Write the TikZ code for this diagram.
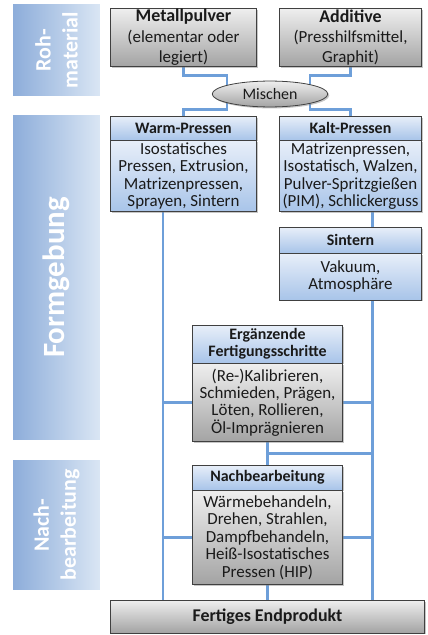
\documentclass[tikz,border=0pt]{standalone}
\usepackage{fontspec}
\setmainfont{Carlito}
\usetikzlibrary{shapes.geometric,shadows,backgrounds,calc}
\definecolor{ink}{HTML}{1A1A1A}
\definecolor{frame}{HTML}{404040}
\definecolor{wire}{HTML}{6E9FD9}
\definecolor{bandL}{HTML}{8DADDA}
\definecolor{bandR}{HTML}{DAE6F4}
\definecolor{greyT}{HTML}{EFEFEF}
\definecolor{greyB}{HTML}{A3A3A3}
\definecolor{blueT}{HTML}{E8EFF9}
\definecolor{blueB}{HTML}{A8C4E9}
\tikzset{
  every node/.style={font=\fontsize{17}{17.5}\selectfont, text=ink},
  shadowed/.style={drop shadow={shadow xshift=1.5pt, shadow yshift=-1.5pt, opacity=0.45}},
  greybox/.style={draw=frame, line width=0.8pt, top color=greyT, bottom color=greyB,
                  align=center, inner sep=1pt, shadowed},
  bluebox/.style={draw=frame, line width=0.8pt, top color=blueT, bottom color=blueB,
                  align=center, inner sep=1pt, shadowed},
  head/.style={font=\fontsize{16}{17.5}\selectfont\bfseries},
  rawbox/.style={greybox, minimum height=59, font=\fontsize{17}{20.5}\selectfont},
  band/.style={left color=bandL, right color=bandR, minimum width=87, inner sep=0pt},
  bandtext/.style={rotate=90, text=white, align=center, font=\fontsize{22}{27}\selectfont\bfseries},
  link/.style={draw=wire, line width=3pt},
}
\newcommand{\ttl}[1]{{\fontsize{18}{20.5}\selectfont\bfseries #1}}

\begin{document}
\begin{tikzpicture}[x=1bp, y=-1bp]
\useasboundingbox (0,0) rectangle (427,635);

% ================= phase bands =================
\node[band, minimum height=92]  (bRoh)  at (56.5,50)    {};
\node[band, minimum height=325] (bForm) at (56.5,277.5) {};
\node[band, minimum height=130] (bNach) at (56.5,525)   {};
\node[bandtext] (tRoh)  at (bRoh)  {Roh-\\material};
\node[bandtext, font=\fontsize{31}{36}\selectfont\bfseries] (tForm) at (bForm) {Formgebung};
\node[bandtext] (tNach) at (bNach) {Nach-\\bearbeitung};

% ================= raw material =================
\node[rawbox, minimum width=147] (metall) at (183.5,37.5)
  {\ttl{Metallpulver}\\(elementar oder\\legiert)};
\node[rawbox, minimum width=143] (addit) at (350.5,37.5)
  {\ttl{Additive}\\(Presshilfsmittel,\\Graphit)};
\node[greybox, ellipse, minimum width=116, minimum height=26, inner sep=0pt,
      font=\fontsize{16}{17.5}\selectfont] (misch) at (270,94) {Mischen};

% ================= shaping =================
\node[bluebox, head, minimum width=147, minimum height=24] (warmH) at (183.5,128) {Warm-Pressen};
\node[bluebox, minimum width=147, minimum height=72] (warmB) at (183.5,176)
  {Isostatisches\\Pressen, Extrusion,\\Matrizenpressen,\\Sprayen, Sintern};
\node[bluebox, head, minimum width=143, minimum height=24] (kaltH) at (350.5,128) {Kalt-Pressen};
\node[bluebox, minimum width=143, minimum height=72] (kaltB) at (350.5,176)
  {Matrizenpressen,\\Isostatisch, Walzen,\\Pulver-Spritzgießen\\(PIM), Schlickerguss};

\node[bluebox, head, minimum width=143, minimum height=26] (sintH) at (350.5,240) {Sintern};
\node[bluebox, minimum width=143, minimum height=47] (sintB) at (350.5,276.5) {Vakuum,\\Atmosphäre};

\node[bluebox, head, minimum width=151, minimum height=38] (ergH) at (267.5,344)
  {Ergänzende\\Fertigungsschritte};
\node[greybox, minimum width=151, minimum height=79] (ergB) at (267.5,402.5)
  {(Re-)Kalibrieren,\\Schmieden, Prägen,\\Löten, Rollieren,\\Öl-Imprägnieren};

% ================= finishing =================
\node[bluebox, head, minimum width=151, minimum height=25] (nachH) at (267.5,477.5) {Nachbearbeitung};
\node[greybox, minimum width=151, minimum height=95] (nachB) at (267.5,537.5)
  {Wärmebehandeln,\\Drehen, Strahlen,\\Dampfbehandeln,\\Heiß-Isostatisches\\Pressen (HIP)};

\node[greybox, minimum width=315, minimum height=33] (endp) at (267.5,616.5) {\ttl{Fertiges Endprodukt}};

% ---- connectors behind the boxes ----
\begin{scope}[on background layer]
  \coordinate (mL) at ($(misch.center)+(-43,0)$);
  \coordinate (mR) at ($(misch.center)+(40,0)$);
  \draw[link] (metall.south) -- ++(0,8) -| (mL);
  \draw[link] (addit.south) -- ++(0,8) -| (mR);
  \draw[link] (mL) |- ($(warmH.north)+(0,-6)$) -- (warmH.north);
  \draw[link] (mR) |- ($(kaltH.north)+(0,-6)$) -- (kaltH.north);

  % two trunks down to the end product
  \coordinate (wOut) at ($(warmB.south)+(-20.5,0)$);
  \coordinate (kOut) at ($(kaltB.south)+(21.5,0)$);
  \draw[link] (wOut) -- (wOut |- endp.north);
  \draw[link] (kOut) -- (kOut |- sintH.north);
  \draw[link] (kOut |- sintB.south) -- (kOut |- endp.north);

  \draw[link] (ergB.west) -- (ergB.west -| wOut);
  \draw[link] (ergB.east) -- (ergB.east -| kOut);
  \draw[link] (nachB.west) -- (nachB.west -| wOut);
  \draw[link] (nachB.east) -- (nachB.east -| kOut);

  \coordinate (eJ) at ($(ergB.south)+(0,11)$);
  \draw[link] (ergB.south) -- (nachH.north);
  \draw[link] (eJ) -- (eJ -| kOut);
  \draw[link] (nachB.south) -- (endp.north);
\end{scope}

\end{tikzpicture}
\end{document}
